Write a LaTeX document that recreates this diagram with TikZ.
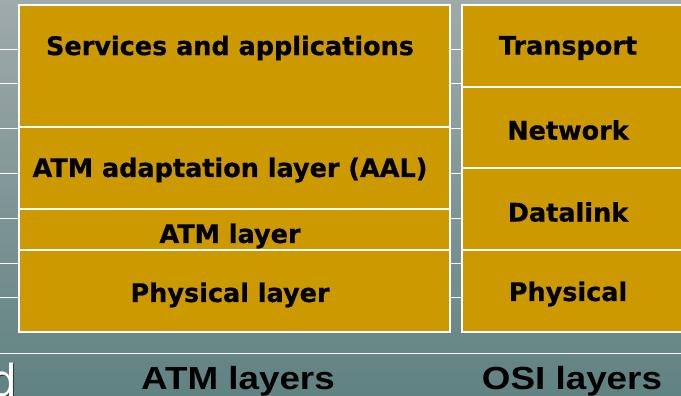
\documentclass[tikz,border=0pt]{standalone}
\usepackage{fontspec}
\setmainfont{DejaVu Sans}
\newfontfamily\boxfont{DejaVu Sans Bold}[FakeBold=0.7]
\newfontfamily\labfont{Liberation Sans Bold}[FakeStretch=1.15]
\newfontfamily\thinfont{DejaVu Sans}
\definecolor{gold}{RGB}{204,153,0}
\definecolor{bgtop}{RGB}{160,170,170}
\definecolor{bgbot}{RGB}{96,130,130}
\tikzset{
  layerbox/.style={draw=white, line width=1.6pt, fill=gold, inner sep=0pt, outer sep=0pt},
  layertext/.style={font=\boxfont\fontsize{25.5}{30}\selectfont, text=black, inner sep=0pt},
  captext/.style={font=\labfont\fontsize{32}{36}\selectfont, text=black, inner sep=0pt},
  bgline/.style={draw=white, line width=0.8pt}
}
\begin{document}
\begin{tikzpicture}[x=1pt,y=-1pt]
\useasboundingbox (0,0) rectangle (681,396);
\shade[top color=bgtop, bottom color=bgbot] (0,0) rectangle (681,396);
\begin{scope}
\clip (0,0) rectangle (681,396);
% background rules
\foreach \yy in {49,83,128,173,218,263,297} \draw[bgline] (0,\yy) -- (681,\yy);
\draw[bgline] (0,353) -- (681,353);
% left stack
\node[layerbox, minimum width=431pt, minimum height=122pt] (svc) at (234.5,66) {};
\node[layerbox, minimum width=431pt, minimum height=82pt] (aal) at (234.5,168) {};
\node[layerbox, minimum width=431pt, minimum height=41pt] (atm) at (234.5,229.5) {};
\node[layerbox, minimum width=431pt, minimum height=82pt] (phy) at (234.5,291) {};
% right stack
\node[layerbox, minimum width=230pt, minimum height=82pt] (tr) at (577,46) {};
\node[layerbox, minimum width=230pt, minimum height=81pt] (nw) at (577,127.5) {};
\node[layerbox, minimum width=230pt, minimum height=82pt] (dl) at (577,209) {};
\node[layerbox, minimum width=230pt, minimum height=82pt] (ph) at (577,291) {};
% texts
\node[layertext] (t1) at (230,48) {Services and applications};
\node[layertext] (t2) at (230,170) {ATM adaptation layer (AAL)};
\node[layertext] (t3) at (230,236) {ATM layer};
\node[layertext] (t4) at (230,295) {Physical layer};
\node[layertext] (t5) at (568,48) {Transport};
\node[layertext] (t6) at (568,130) {Network};
\node[layertext] (t7) at (568,212) {Datalink};
\node[layertext] (t8) at (568,294) {Physical};
\node[captext] (c1) at (238,381) {ATM layers};
\node[captext] (c2) at (572,381) {OSI layers};
\node[font=\thinfont\fontsize{44}{50}\selectfont, text=black!80, inner sep=0pt, anchor=base east] (ddsh) at (19,397) {d};
\node[font=\thinfont\fontsize{44}{50}\selectfont, text=white, inner sep=0pt, anchor=base east] (dd) at (17.5,396) {d};
\end{scope}
\end{tikzpicture}
\end{document}
